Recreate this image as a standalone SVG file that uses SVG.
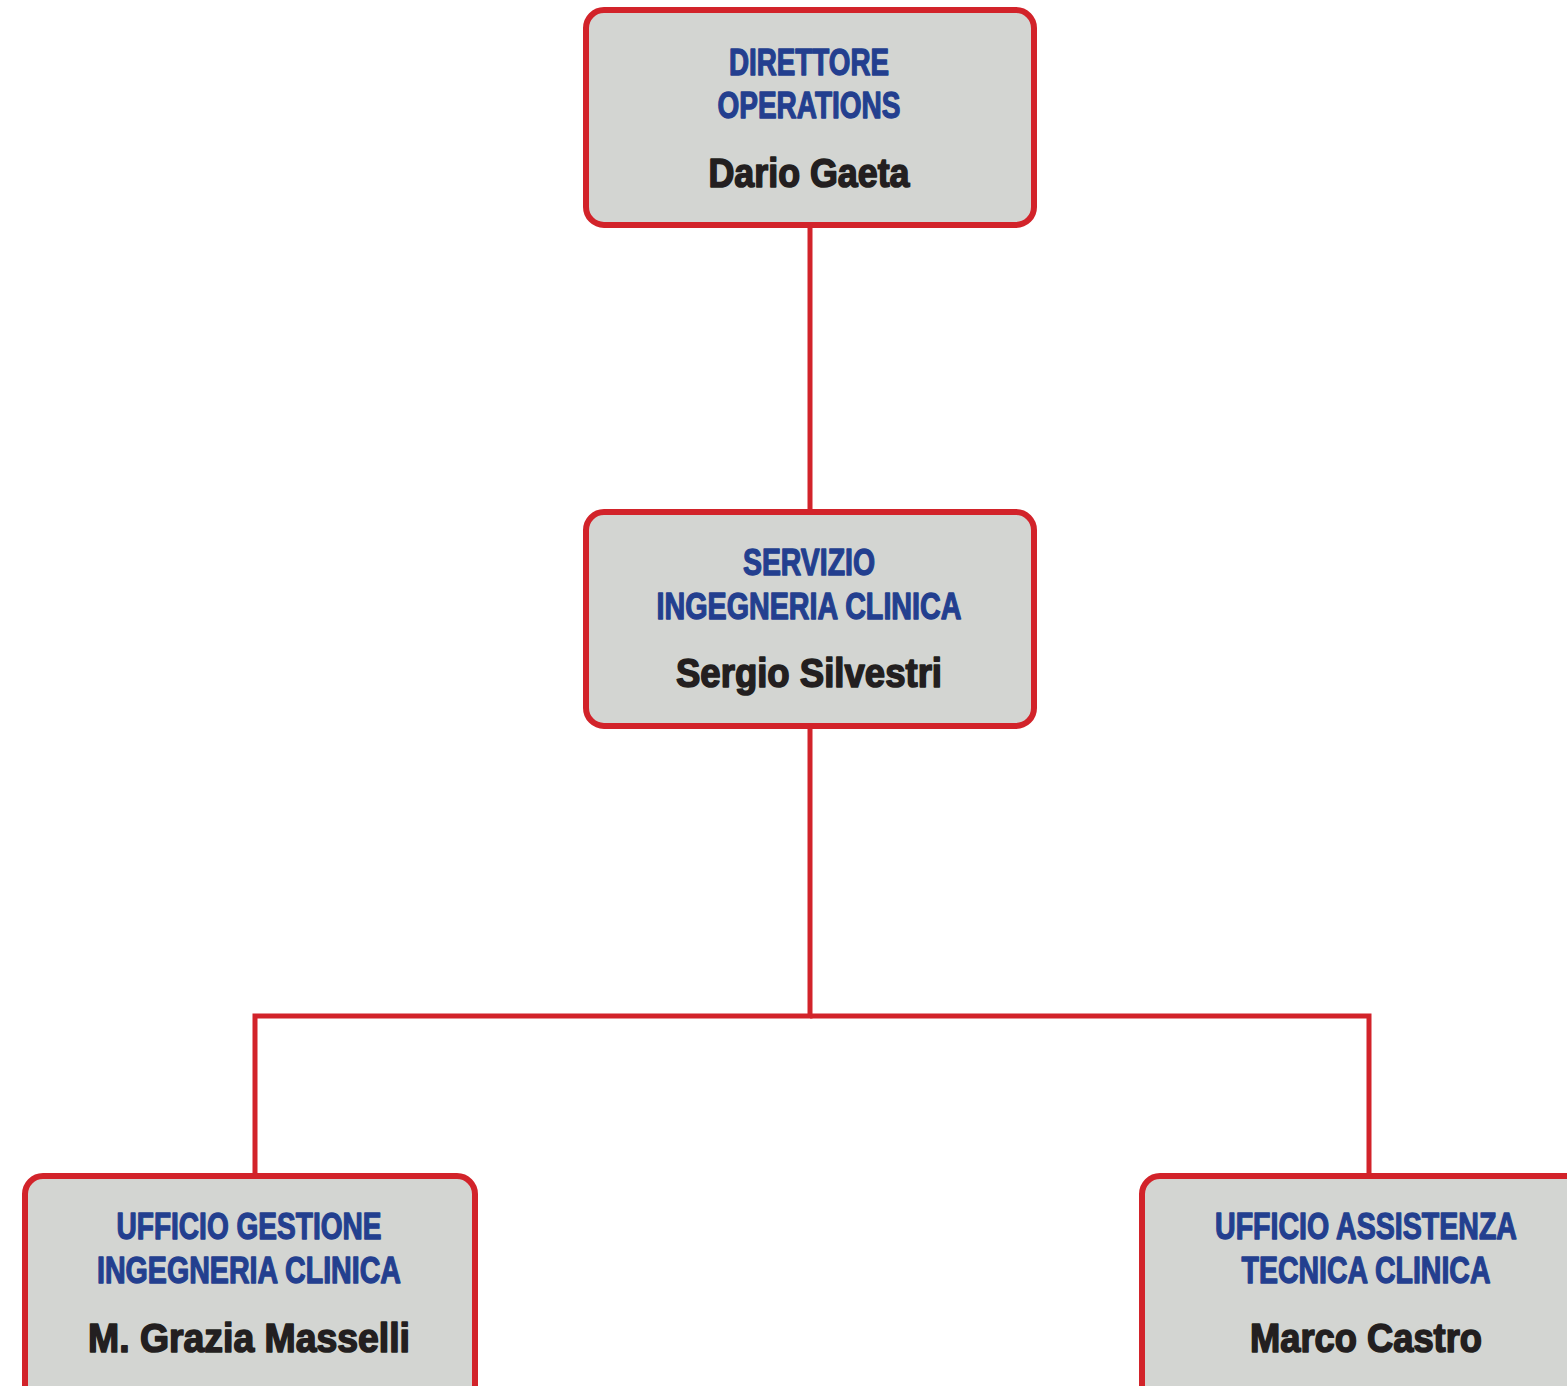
<svg xmlns="http://www.w3.org/2000/svg" width="1567" height="1386" viewBox="0 0 1567 1386">
<style>
.box{fill:#d3d5d2;stroke:#d2232a;stroke-width:6}
.conn{fill:none;stroke:#d2232a;stroke-width:5}
.t{font-family:"Liberation Sans Narrow","Liberation Sans",Arial,sans-serif;font-weight:bold;text-anchor:middle;stroke-linejoin:round}
.b{fill:#233f8f;stroke:#233f8f;stroke-width:1.3;font-size:36px}
.n{fill:#231f20;stroke:#231f20;stroke-width:1.6;font-size:40px}
</style>
<rect width="1567" height="1386" fill="#ffffff"/>
<g id="connectors">
<path class="conn" d="M810 226V510"/>
<path class="conn" d="M810 728V1016H255V1174"/>
<path class="conn" d="M810 1016H1369V1174"/>
</g>
<g id="node-direttore">
<rect class="box" x="586" y="10" width="448" height="215" rx="18"/>
<text class="t b" x="809" y="75" textLength="160" lengthAdjust="spacingAndGlyphs">DIRETTORE</text>
<text class="t b" x="809" y="118" textLength="183" lengthAdjust="spacingAndGlyphs">OPERATIONS</text>
<text class="t n" x="809" y="187" textLength="201" lengthAdjust="spacingAndGlyphs">Dario Gaeta</text>
</g>
<g id="node-servizio">
<rect class="box" x="586" y="512" width="448" height="214" rx="18"/>
<text class="t b" x="809" y="575" textLength="132" lengthAdjust="spacingAndGlyphs">SERVIZIO</text>
<text class="t b" x="809" y="619" textLength="305" lengthAdjust="spacingAndGlyphs">INGEGNERIA CLINICA</text>
<text class="t n" x="809" y="687" textLength="266" lengthAdjust="spacingAndGlyphs">Sergio Silvestri</text>
</g>
<g id="node-gestione">
<rect class="box" x="25" y="1176" width="450" height="240" rx="18"/>
<text class="t b" x="249" y="1239" textLength="265" lengthAdjust="spacingAndGlyphs">UFFICIO GESTIONE</text>
<text class="t b" x="249" y="1283" textLength="304" lengthAdjust="spacingAndGlyphs">INGEGNERIA CLINICA</text>
<text class="t n" x="249" y="1352" textLength="322" lengthAdjust="spacingAndGlyphs">M. Grazia Masselli</text>
</g>
<g id="node-assistenza">
<rect class="box" x="1142" y="1176" width="450" height="240" rx="18"/>
<text class="t b" x="1366" y="1239" textLength="302" lengthAdjust="spacingAndGlyphs">UFFICIO ASSISTENZA</text>
<text class="t b" x="1366" y="1283" textLength="249" lengthAdjust="spacingAndGlyphs">TECNICA CLINICA</text>
<text class="t n" x="1366" y="1352" textLength="232" lengthAdjust="spacingAndGlyphs">Marco Castro</text>
</g>
</svg>
